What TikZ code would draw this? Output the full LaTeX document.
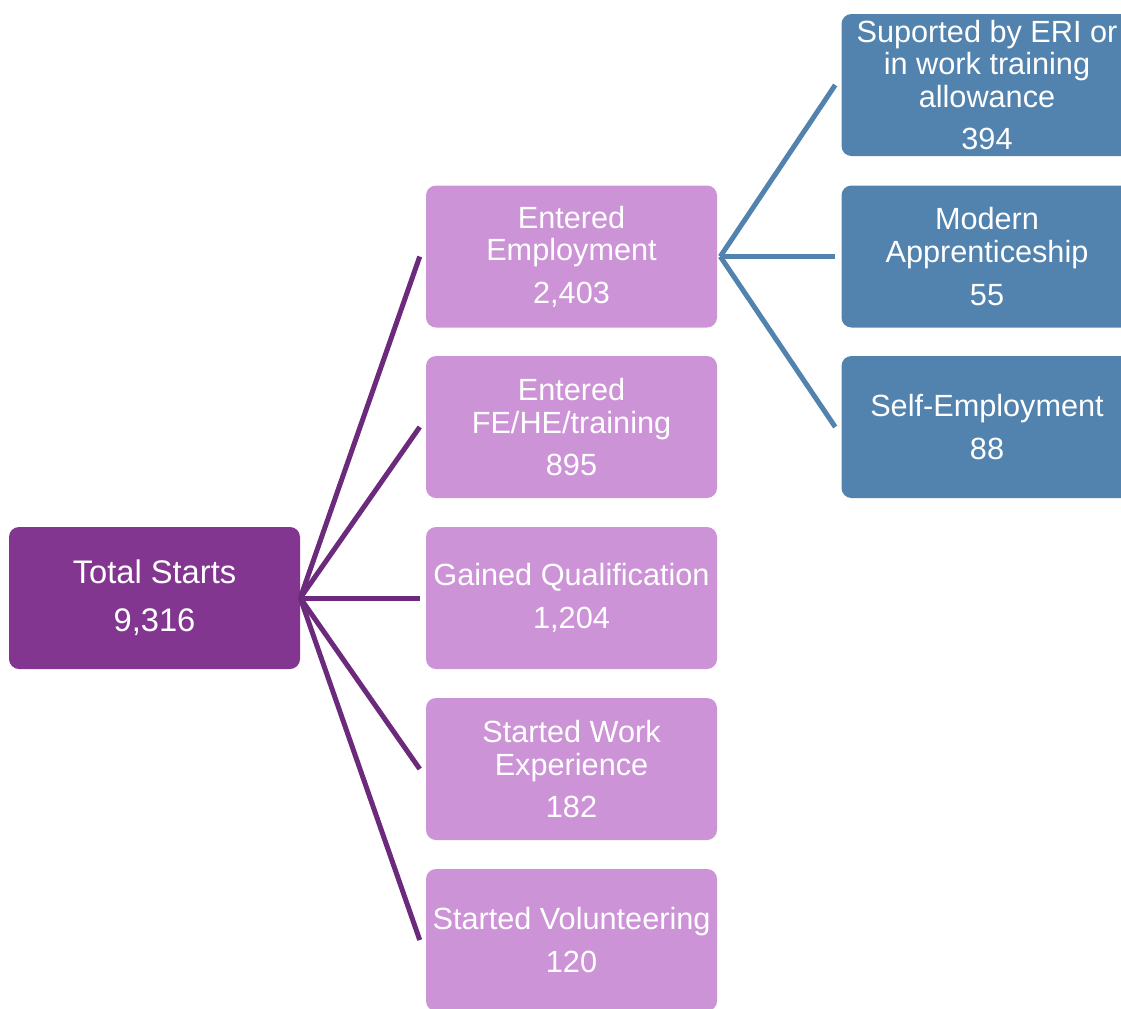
\documentclass[tikz,border=0pt]{standalone}
\usepackage{fontspec}
\setmainfont{Liberation Sans}
\usepackage{xcolor}
\usepackage{tikz}
\definecolor{totalpurple}{HTML}{833690}
\definecolor{linkpurple}{HTML}{6C2A7C}
\definecolor{lightpurple}{HTML}{CC94D6}
\definecolor{outblue}{HTML}{5283AE}

\begin{document}
\begin{tikzpicture}[x=0.75pt,y=0.75pt,yscale=-1,xscale=1,
  box/.style={rounded corners=7.5pt, minimum width=218.25pt, minimum height=106.5pt,
    inner sep=0pt, align=center, text=white, font=\fontsize{23}{24.5}\selectfont},
  totalbox/.style={box, fill=totalpurple, font=\fontsize{24.5}{29}\selectfont},
  stagebox/.style={box, fill=lightpurple},
  outbox/.style={box, fill=outblue},
  link/.style={draw=linkpurple, line width=3.75pt},
  branch/.style={draw=outblue, line width=3.75pt}]
\useasboundingbox (0,0) rectangle (1121,1008);
\clip (0,0) rectangle (1121,1008);

% root
\node [totalbox] (total) at (154.5,598) {Total Starts\\[7.3pt]9,316};

% outcomes
\node [stagebox] (emp) at (571.5,256.5) {Entered\\Employment\\[7.3pt]2,403};
\node [stagebox] (fehe) at (571.5,427) {Entered\\FE/HE/training\\[7.3pt]895};
\node [stagebox] (qual) at (571.5,598) {Gained Qualification\\[7.3pt]1,204};
\node [stagebox] (work) at (571.5,769) {Started Work\\Experience\\[7.3pt]182};
\node [stagebox] (vol) at (571.5,940) {Started Volunteering\\[7.3pt]120};

% employment types
\node [outbox] (eri) at (987,85) {Suported by ERI or\\in work training\\allowance\\[7.3pt]394};
\node [outbox] (appr) at (987,256.5) {Modern\\Apprenticeship\\[7.3pt]55};
\node [outbox] (self) at (987,427) {Self-Employment\\[7.3pt]88};

\draw [link] (total.east) -- ([xshift=-4.5pt]emp.west);
\draw [link] (total.east) -- ([xshift=-4.5pt]fehe.west);
\draw [link] (total.east) -- ([xshift=-4.5pt]qual.west);
\draw [link] (total.east) -- ([xshift=-4.5pt]work.west);
\draw [link] (total.east) -- ([xshift=-4.5pt]vol.west);

\draw [branch] ([xshift=2.25pt]emp.east) -- ([xshift=-4.5pt]eri.west);
\draw [branch] ([xshift=2.25pt]emp.east) -- ([xshift=-4.5pt]appr.west);
\draw [branch] ([xshift=2.25pt]emp.east) -- ([xshift=-4.5pt]self.west);
\end{tikzpicture}
\end{document}
